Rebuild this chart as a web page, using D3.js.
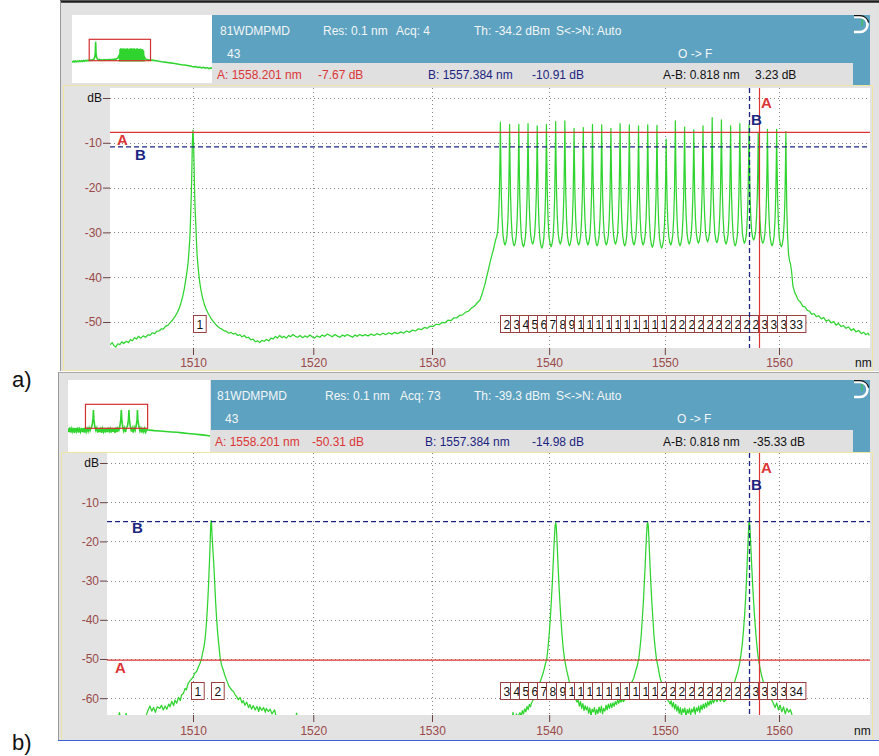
<!DOCTYPE html>
<html>
<head>
<meta charset="utf-8">
<script src="https://cdn.jsdelivr.net/npm/d3@7"></script>
<style>
  body { margin: 0; background: #fff; }
  svg { display: block; }
  text { font-family: Arial, "Liberation Sans", sans-serif; }
</style>
</head>
<body>
<svg id="chart" width="879" height="756"></svg>
<script>
const C = 299792.458; // speed of light, nm·THz

// ---- axes ----
const nmTicks = [1510, 1520, 1530, 1540, 1550, 1560];
const dbTicksA = [0, -10, -20, -30, -40, -50];
const dbTicksB = [0, -10, -20, -30, -40, -50, -60];
const viewNm = [1503.2, 1568.0];
const viewDbA = [2.23, -55.8];
const viewDbB = [2.55, -64.29];

// ---- 100 GHz DWDM grid (THz) ----
const combTHz = [195.2, 195.1, 195.0, 194.9, 194.8, 194.7, 194.6, 194.5, 194.4, 194.3, 194.2,
  194.1, 194.0, 193.9, 193.8, 193.7, 193.6, 193.5, 193.4, 193.3, 193.2, 193.1, 193.0,
  192.9, 192.8, 192.7, 192.6, 192.5, 192.4, 192.3, 192.2, 192.1];

// ---- trace a) : all channels lit ----
const combPeakA = [-5.4, -5.9, -5.9, -5.7, -6.2, -5.9, -5.3, -5.1, -6.8, -6.6, -5.9, -6.0, -6.8,
  -5.7, -6.0, -6.2, -6.0, -6.1, -9.2, -5.1, -6.5, -7.1, -6.2, -4.4, -4.9, -6.2, -5.7, -6.0,
  -7.67, -7.0, -7.0, -7.5];
const combValleyA = [-31.5, -32.8, -33.0, -33.2, -32.6, -33.5, -33.2, -32.6, -33.0, -32.8, -32.8,
  -33.0, -32.8, -32.6, -33.0, -32.8, -32.8, -33.3, -33.5, -32.8, -33.0, -32.6, -32.4, -32.1,
  -32.3, -32.6, -33.0, -32.4, -31.7, -32.4, -33.0, -33.2, -37.0];
// line profile: offset from channel centre (GHz) and fraction of the valley-to-peak rise
const lineGHz = [50, 40, 28, 18, 10, 4, 0];
const lineFrac = [0, 0.02, 0.08, 0.22, 0.42, 0.72, 1];

const traceLeftA = [
  [1503.18,-55.1],[1503.35,-54.6],[1503.5,-55.3],[1503.65,-55.6],[1503.8,-54.9],[1504.0,-55.0],
  [1504.15,-54.4],[1504.3,-54.8],[1504.52,-54.3],[1504.7,-54.6],[1504.85,-53.9],[1505.0,-54.2],
  [1505.2,-53.5],[1505.35,-53.8],[1505.5,-53.2],[1505.7,-53.6],[1505.9,-53.1],[1506.1,-53.4],
  [1506.3,-52.8],[1506.46,-53.0],[1506.65,-52.4],[1506.85,-52.6],[1507.0,-52.1],[1507.2,-52.0],
  [1507.4,-51.5],[1507.55,-51.6],[1507.75,-50.9],[1507.95,-50.7],[1508.1,-50.2],[1508.3,-49.6],
  [1508.51,-48.8],[1508.7,-47.9],[1508.87,-46.9],[1509.0,-45.8],[1509.15,-44.3],[1509.28,-42.6],
  [1509.4,-40.6],[1509.5,-38.8],[1509.59,-36.9],[1509.66,-34.5],[1509.73,-31.7],[1509.78,-28.5],
  [1509.81,-25.7],[1509.86,-21.5],[1509.89,-18.3],[1509.92,-14.0],[1509.94,-10.9],[1509.97,-8.2],
  [1510.0,-7.2],[1510.03,-8.5],[1510.06,-11.5],[1510.09,-15.2],[1510.11,-18.3],[1510.14,-21.6],
  [1510.17,-24.3],[1510.21,-27.0],[1510.25,-29.5],[1510.29,-32.2],[1510.33,-34.7],[1510.4,-37.1],
  [1510.47,-39.1],[1510.56,-41.2],[1510.66,-42.9],[1510.78,-44.5],[1510.91,-45.8],[1511.08,-47.1],
  [1511.26,-48.1],[1511.45,-49.0],[1511.68,-49.9],[1511.9,-50.6],[1512.05,-51.0],[1512.23,-51.4],
  [1512.4,-51.6],[1512.6,-52.0],[1512.78,-52.1],[1512.95,-52.5],[1513.15,-52.3],[1513.33,-52.7],
  [1513.5,-52.5],[1513.7,-53.0],[1513.88,-52.8],[1514.05,-53.3],[1514.25,-53.0],[1514.43,-53.5],
  [1514.6,-53.4],[1514.8,-54.0],[1514.98,-53.8],[1515.15,-54.4],[1515.35,-54.2],[1515.53,-54.6],
  [1515.7,-54.1],[1515.9,-54.3],[1516.09,-53.9],[1516.3,-54.2],[1516.45,-53.6],[1516.64,-53.8],
  [1516.85,-53.2],[1517.0,-53.6],[1517.2,-53.0],[1517.4,-53.5],[1517.55,-53.2],[1517.75,-53.6],
  [1517.95,-53.0],[1518.1,-53.3],[1518.3,-52.8],[1518.5,-53.2],[1518.7,-53.4],[1518.89,-53.0],
  [1519.1,-53.5],[1519.3,-53.1],[1519.5,-53.4],[1519.72,-52.9],[1519.9,-53.3],[1520.1,-53.6],
  [1520.3,-53.1],[1520.55,-53.4],[1520.75,-52.9],[1520.95,-53.2],[1521.2,-52.7],[1521.4,-53.0],
  [1521.6,-53.3],[1521.8,-52.8],[1522.0,-53.1],[1522.23,-53.4],[1522.45,-52.9],[1522.65,-53.2],
  [1522.85,-52.8],[1523.07,-53.1],[1523.3,-53.4],[1523.5,-52.9],[1523.7,-53.2],[1523.9,-52.8],
  [1524.1,-53.1],[1524.35,-52.8],[1524.6,-53.1],[1524.85,-52.7],[1525.1,-53.0],[1525.35,-52.6],
  [1525.6,-52.9],[1525.85,-52.5],[1526.1,-52.8],[1526.35,-52.4],[1526.6,-52.7],[1526.85,-52.3],
  [1527.1,-52.6],[1527.35,-52.2],[1527.6,-52.5],[1527.85,-52.0],[1528.1,-52.3],[1528.35,-51.8],
  [1528.6,-52.0],[1528.85,-51.5],[1529.1,-51.7],[1529.35,-51.2],[1529.6,-51.4],[1529.85,-50.9],
  [1530.1,-51.0],[1530.35,-50.5],[1530.6,-50.6],[1530.85,-50.1],[1531.1,-50.2],[1531.35,-49.6],
  [1531.6,-49.7],[1531.85,-49.1],[1532.1,-49.1],[1532.35,-48.5],[1532.6,-48.4],[1532.85,-47.8],
  [1533.1,-47.6],[1533.35,-46.9],[1533.6,-46.5],[1533.85,-45.7],[1534.08,-45.1],[1534.3,-43.4],
  [1534.5,-41.6],[1534.65,-39.9],[1534.8,-38.3],[1534.95,-36.6],[1535.1,-35.0],[1535.22,-33.9],
  [1535.33,-32.6]
];
const traceTailA = [
  [1561.1,-38.5],[1561.23,-42.0],[1561.4,-43.5],[1561.55,-44.2],[1561.67,-45.0],[1561.9,-45.6],
  [1562.11,-46.5],[1562.3,-46.6],[1562.5,-47.4],[1562.7,-47.6],[1562.9,-48.3],[1563.1,-48.1],
  [1563.29,-48.8],[1563.5,-48.6],[1563.75,-49.3],[1563.95,-49.0],[1564.17,-49.8],[1564.4,-49.5],
  [1564.6,-50.2],[1564.85,-49.9],[1565.05,-50.7],[1565.25,-50.3],[1565.5,-51.0],[1565.7,-50.8],
  [1565.93,-51.4],[1566.15,-51.1],[1566.4,-51.9],[1566.6,-51.5],[1566.81,-52.2],[1567.05,-51.9],
  [1567.3,-52.6],[1567.5,-52.3],[1567.7,-52.8],[1567.9,-52.5],[1568.0,-53.0]
];

// ---- trace b) : four channels lit ----
const traceB = [
  [1503.0,-66],[1503.8,-65.5],[1503.95,-63.7],[1504.05,-65.8],[1504.4,-65.0],[1504.5,-63.9],
  [1504.6,-65.6],[1505.5,-66],[1506.1,-64.8],
  [1506.3,-63.0],[1506.45,-62.0],[1506.6,-63.3],[1506.75,-62.4],[1506.9,-63.6],[1507.05,-62.2],
  [1507.27,-62.6],[1507.4,-61.8],[1507.55,-63.0],[1507.7,-62.0],[1507.85,-62.8],[1508.0,-61.5],
  [1508.1,-62.2],[1508.25,-60.8],[1508.4,-61.9],[1508.5,-60.5],[1508.65,-61.3],[1508.8,-59.8],
  [1508.95,-60.6],[1509.05,-59.2],[1509.2,-58.8],[1509.35,-57.5],[1509.45,-57.9],[1509.6,-56.2],
  [1509.75,-55.6],[1509.9,-55.0],[1510.03,-54.5],[1510.15,-53.6],[1510.3,-53.2],[1510.45,-52.0],
  [1510.58,-51.1],[1510.71,-49.8],[1510.8,-48.4],[1510.91,-46.9],[1511.0,-44.8],[1511.07,-42.6],
  [1511.13,-40.0],[1511.18,-37.5],[1511.24,-34.0],[1511.29,-30.7],[1511.33,-27.5],[1511.37,-24.7],
  [1511.41,-21.0],[1511.44,-18.0],[1511.47,-15.6],[1511.5,-14.7],[1511.53,-15.4],[1511.56,-17.5],
  [1511.6,-19.8],[1511.65,-22.4],[1511.71,-25.3],[1511.76,-28.4],[1511.8,-30.9],[1511.87,-35.4],
  [1511.95,-39.6],[1512.04,-43.4],[1512.13,-46.2],[1512.24,-49.6],[1512.36,-51.5],[1512.5,-52.8],
  [1512.64,-54.2],[1512.78,-55.4],[1512.95,-56.8],[1513.19,-57.9],[1513.35,-58.3],[1513.5,-59.2],
  [1513.61,-59.6],[1513.75,-60.4],[1513.9,-59.8],[1514.05,-61.2],[1514.16,-60.6],[1514.3,-61.8],
  [1514.45,-61.0],[1514.6,-62.4],[1514.71,-61.6],[1514.85,-62.8],[1515.0,-61.9],[1515.15,-63.0],
  [1515.3,-62.1],[1515.45,-63.4],[1515.53,-62.2],[1515.7,-63.1],[1515.85,-62.4],[1516.0,-63.6],
  [1516.08,-62.6],[1516.25,-63.4],[1516.4,-62.8],[1516.55,-64.0],[1516.77,-63.0],[1516.9,-64.8],
  [1517.2,-66],[1518.5,-66],[1518.6,-63.8],[1518.7,-66],[1536.7,-66],
  [1536.85,-64.9],[1536.9,-63.6],[1536.95,-65.0],[1537.1,-65.2],[1537.2,-64.0],[1537.3,-65.1],
  [1537.4,-64.2],[1537.5,-63.7],[1537.6,-64.6],[1537.7,-63.2],[1537.8,-64.0],[1537.9,-62.7],
  [1538.0,-63.5],[1538.1,-62.1],[1538.2,-62.9],[1538.3,-61.6],[1538.4,-62.2],[1538.47,-61.3],
  [1538.6,-60.6],[1538.76,-59.4],[1538.9,-58.6],[1539.04,-57.3],[1539.2,-56.0],[1539.35,-54.8],
  [1539.5,-53.4],[1539.65,-51.6],[1539.8,-49.8],[1539.9,-47.2],[1540.0,-43.8],[1540.1,-39.6],
  [1540.19,-35.0],[1540.27,-30.7],[1540.34,-26.0],[1540.4,-22.0],[1540.46,-18.6],[1540.51,-16.0],
  [1540.56,-15.2],[1540.61,-16.2],[1540.66,-19.0],[1540.71,-22.4],[1540.77,-26.5],[1540.84,-31.0],
  [1540.92,-35.4],[1541.01,-39.8],[1541.11,-44.0],[1541.21,-47.4],[1541.32,-49.9],[1541.47,-52.4],
  [1541.62,-54.4],[1541.78,-56.4],[1541.95,-58.0],[1542.1,-59.2],[1542.25,-60.0],[1542.39,-61.0],
  [1542.5,-60.5],[1542.6,-62.0],[1542.7,-60.9],[1542.8,-62.6],[1542.9,-61.4],[1543.0,-63.2],
  [1543.1,-61.9],[1543.2,-63.0],[1543.3,-62.2],[1543.4,-63.8],[1543.5,-62.5],[1543.6,-64.6],
  [1543.7,-62.8],[1543.8,-63.5],[1543.9,-62.4],[1544.0,-64.2],[1544.1,-62.9],[1544.2,-63.9],
  [1544.3,-62.3],[1544.4,-63.6],[1544.5,-62.0],[1544.6,-64.0],[1544.7,-62.6],[1544.8,-63.3],
  [1544.9,-61.8],[1545.0,-63.0],[1545.1,-61.5],[1545.2,-62.6],[1545.3,-61.3],[1545.4,-62.4],
  [1545.5,-61.2],[1545.6,-62.1],[1545.7,-60.9],[1545.8,-61.6],[1545.9,-60.5],[1546.0,-61.3],
  [1546.1,-60.2],[1546.2,-61.0],[1546.3,-60.0],[1546.4,-60.9],
  [1546.55,-60.3],[1546.71,-59.6],[1546.85,-58.4],[1546.99,-57.5],[1547.15,-55.8],[1547.3,-54.9],
  [1547.45,-53.2],[1547.6,-51.8],[1547.75,-49.6],[1547.85,-47.0],[1547.95,-43.9],[1548.05,-39.4],
  [1548.14,-35.2],[1548.22,-30.5],[1548.29,-26.2],[1548.35,-22.1],[1548.41,-18.4],[1548.46,-15.9],
  [1548.51,-15.1],[1548.56,-16.0],[1548.61,-18.8],[1548.66,-22.3],[1548.72,-26.6],[1548.79,-30.8],
  [1548.87,-35.6],[1548.96,-39.6],[1549.06,-44.2],[1549.16,-47.2],[1549.27,-50.0],[1549.42,-52.2],
  [1549.57,-54.6],[1549.73,-56.2],[1549.9,-58.2],[1550.05,-59.0],[1550.2,-60.2],[1550.34,-60.8],
  [1550.45,-61.5],[1550.55,-60.7],[1550.65,-62.2],[1550.75,-61.1],[1550.85,-62.8],[1550.95,-61.6],
  [1551.05,-63.3],[1551.15,-62.0],[1551.25,-63.9],[1551.35,-62.4],[1551.45,-64.5],[1551.55,-62.7],
  [1551.65,-63.6],[1551.75,-62.5],[1551.85,-64.8],[1551.95,-62.9],[1552.05,-63.8],[1552.15,-62.6],
  [1552.25,-64.3],[1552.35,-62.8],[1552.45,-63.5],[1552.55,-62.2],[1552.65,-64.1],[1552.75,-62.5],
  [1552.85,-63.3],[1552.95,-62.0],[1553.05,-63.6],[1553.15,-61.8],[1553.25,-62.9],[1553.35,-61.5],
  [1553.45,-62.6],[1553.55,-61.2],[1553.65,-62.3],[1553.75,-60.9],[1553.85,-61.8],[1553.95,-60.6],
  [1554.05,-61.5],[1554.15,-60.3],[1554.25,-61.2],[1554.4,-60.1],[1554.55,-60.9],[1554.7,-59.9],
  [1554.85,-60.8],[1555.0,-60.0],[1555.15,-60.9],
  [1555.35,-60.4],[1555.5,-59.5],[1555.65,-59.0],[1555.8,-58.0],[1555.95,-56.9],[1556.1,-55.8],
  [1556.25,-54.4],[1556.4,-52.9],[1556.55,-50.9],[1556.65,-49.0],[1556.77,-46.2],[1556.88,-42.6],
  [1556.98,-38.6],[1557.07,-34.2],[1557.14,-29.8],[1557.2,-25.6],[1557.26,-21.4],[1557.31,-17.8],
  [1557.35,-15.4],[1557.384,-14.98],[1557.42,-15.6],[1557.47,-18.2],[1557.53,-21.9],[1557.6,-26.4],
  [1557.68,-31.0],[1557.77,-35.6],[1557.87,-40.0],[1557.98,-44.2],[1558.09,-47.6],[1558.201,-50.31],
  [1558.35,-52.6],[1558.5,-54.6],[1558.66,-56.3],[1558.83,-57.8],[1559.0,-58.8],[1559.17,-59.8],
  [1559.35,-60.4],[1559.5,-61.3],
  [1559.65,-62.4],[1559.8,-61.2],[1559.95,-63.0],[1560.1,-61.8],[1560.25,-63.5],[1560.4,-62.2],
  [1560.55,-64.0],[1560.7,-62.6],[1560.85,-63.6],[1561.0,-62.9],[1561.15,-64.3],[1561.3,-65.2],
  [1561.6,-66],[1568.1,-66]
];

// ---- overview strips (full span) ----
const thumbNm = [1485, 1633];
const thumbLeftA = [
  [1485,-57.5],[1486,-59.5],[1487,-57.0],[1488,-59.2],[1489,-56.8],[1490,-58.8],[1491,-56.5],
  [1492,-58.6],[1493,-56.2],[1494,-58.0],[1495,-55.8],[1496,-57.6],[1497,-55.4],[1498,-57.2],
  [1499,-55.0],[1500,-56.8],[1501,-54.6],[1502,-56.2],[1503,-54.2],[1504,-55.6],[1505,-53.8],
  [1506,-54.8],[1507,-53.0],[1508,-52.0],[1509,-47.0],[1509.6,-35],[1510,-4.3],[1510.4,-35],
  [1511,-47],[1512,-51.5],[1513,-53.8],[1514,-52.6],[1515,-54.5],[1516,-53.0],[1517,-54.8],
  [1518,-53.2],[1519,-54.6],[1520,-53.0],[1521,-54.4],[1522,-52.8],[1523,-54.2],[1524,-52.6],
  [1525,-54.0],[1526,-52.4],[1527,-53.6],[1528,-52.0],[1529,-53.2],[1530,-51.6],[1531,-52.4],
  [1532,-50.5],[1533,-49.5],[1534,-46.0],[1535,-40.0]
];
const thumbCombTopA = [-24, -22, -27, -23, -25, -22, -28, -24, -23, -26, -22, -25, -27, -23, -24,
  -22, -26, -23, -28, -22, -25, -24, -23, -22, -26, -24, -25, -23, -27, -24, -26, -28];
const thumbCombFloorA = -58;
const thumbRightA = [
  [1561.5,-45],[1562.5,-50.5],[1564,-52.8],[1566,-53.6],[1568,-54.2],[1571,-55.0],[1574,-56.0],
  [1577,-57.4],[1580,-58.6],[1583,-59.6],[1586,-60.6],[1589,-61.8],[1592,-62.8],[1595,-64.0],
  [1598,-65.4],[1601,-66.6],[1604,-67.6],[1607,-68.8],[1610,-70.2],[1612,-71.5],[1614,-72.5],
  [1616,-71.6],[1618,-74.0],[1620,-72.8],[1622,-75.2],[1624,-73.6],[1626,-76.2],[1628,-74.4],
  [1630,-77.2],[1632,-75.4],[1633,-77.0]
];
const thumbB = [
  [1485,-64],[1486,-75],[1487,-62],[1488,-76],[1489,-65],[1490,-74],[1491,-63],[1492,-77],
  [1493,-64],[1494,-73],[1495,-62],[1496,-76],[1497,-66],[1498,-74],[1499,-63],[1500,-75],
  [1501,-64],[1502,-76],[1503,-62],[1504,-74],[1505,-65],[1506,-73],[1507,-63],[1508,-71],
  [1509,-62],[1510,-58],[1511,-40],[1511.5,-13.4],[1512,-40],[1513,-60],[1514,-70],[1515,-63],
  [1516,-76],[1517,-64],[1518,-75],[1519,-62],[1520,-77],[1521,-65],[1522,-74],[1523,-63],
  [1524,-76],[1525,-64],[1526,-75],[1527,-62],[1528,-73],[1529,-65],[1530,-76],[1531,-63],
  [1532,-74],[1533,-64],[1534,-77],[1535,-62],[1536,-75],[1537,-64],[1538,-70],[1539,-60],
  [1540,-40],[1540.56,-13.4],[1541.1,-40],[1542,-60],[1543,-72],[1544,-63],[1545,-75],[1546,-62],
  [1547,-58],[1548,-40],[1548.51,-13.4],[1549,-40],[1550,-60],[1551,-73],[1552,-64],[1553,-76],
  [1554,-62],[1555,-70],[1556,-58],[1557,-40],[1557.37,-13.4],[1557.8,-40],[1559,-60],[1560,-72],
  [1561,-64],[1562,-76],[1563,-63],[1564,-74],[1565,-65],[1566,-75],[1567,-68],[1570,-69.5],
  [1575,-70.8],[1581,-71.9],[1587,-73.2],[1593,-74.4],[1598.5,-75.5],[1604,-77.0],[1610,-78.6],
  [1616,-80.2],[1622,-82.0],[1627,-83.4],[1631.6,-85.0],[1633,-85.3]
];

// ---- markers and header readouts ----
const markersA = { A: [1558.201, -7.67], B: [1557.384, -10.91], dNm: "0.818", dDb: "3.23" };
const markersB = { A: [1558.201, -50.31], B: [1557.384, -14.98], dNm: "0.818", dDb: "-35.33" };
const headerA = ["81WDMPMD", "Res: 0.1 nm", "Acq: 4", "Th: -34.2 dBm", "S<->N: Auto", "43", "O -> F"];
const headerB = ["81WDMPMD", "Res: 0.1 nm", "Acq: 73", "Th: -39.3 dBm", "S<->N: Auto", "43", "O -> F"];

// ---- channel numbering ----
const chanNmA = [1510.0].concat(combTHz.map(f => C / f));
const chanNmB = [1509.8, 1511.5].concat(combTHz.map(f => C / f));

// Build the comb portion of a trace from channel peaks, valleys and the line profile.
function combTrace(peaks, valleys) {
  const pts = [];
  combTHz.forEach((f, k) => {
    const vL = valleys[k], vR = valleys[k + 1], p = peaks[k];
    for (let i = 0; i < lineGHz.length; i++) {
      if (i === 0 && k > 0) continue;
      pts.push([C / (f + lineGHz[i] / 1000), vL + (p - vL) * lineFrac[i]]);
    }
    for (let i = lineGHz.length - 2; i >= 0; i--) {
      pts.push([C / (f - lineGHz[i] / 1000), vR + (p - vR) * lineFrac[i]]);
    }
  });
  return pts;
}
function thumbComb(tops, floor) {
  const pts = [];
  combTHz.forEach((f, k) => { pts.push([C / (f + 0.05), floor], [C / f, tops[k]]); });
  pts.push([C / (combTHz[combTHz.length - 1] - 0.05), floor]);
  return pts;
}

const traceA = traceLeftA.concat(combTrace(combPeakA, combValleyA), traceTailA);
const thumbA = thumbLeftA.concat(thumbComb(thumbCombTopA, thumbCombFloorA), thumbRightA);

// Horizontal axis is linear in optical frequency, labelled in wavelength.
const xF = d3.scaleLinear().domain([C / 1510, C / 1560]).range([193, 779]);
const xNm = nm => xF(C / nm);

const svg = d3.select("#chart");
const BLUE = "#5da2c0", RED = "#dc3535", NAVY = "#1c2580", GREEN = "#2fd42f", BOX = "#9a4040";
const TICK = "#9a4a48";

function drawPanel(p) {
  const g = svg.append("g");
  const f = p.frame;
  g.append("rect").attr("x", f.x).attr("y", f.y).attr("width", f.w).attr("height", f.h).attr("fill", "#e2e2e2");
  g.append("line").attr("x1", f.x).attr("x2", f.x + f.w).attr("y1", f.y + 0.5).attr("y2", f.y + 0.5)
    .attr("stroke", p.topStroke).attr("stroke-width", p.topWidth);
  g.append("line").attr("x1", f.x + 0.5).attr("x2", f.x + 0.5).attr("y1", f.y).attr("y2", f.y + f.h)
    .attr("stroke", "#9a9a9a");

  // overview strip
  const t = p.thumb;
  g.append("rect").attr("x", t.x).attr("y", t.y).attr("width", t.w).attr("height", t.h).attr("fill", "#fff");
  const tx = d3.scaleLinear().domain(thumbNm).range([t.x, t.x + t.w]);
  const ty = d3.scaleLinear().domain(p.viewDb).range(p.thumbRectY);
  g.append("clipPath").attr("id", "tc" + p.id).append("rect")
    .attr("x", t.x).attr("y", t.y).attr("width", t.w).attr("height", t.h);
  g.append("path").datum(p.thumbData)
    .attr("clip-path", `url(#tc${p.id})`)
    .attr("d", d3.line().x(d => tx(d[0])).y(d => ty(d[1])))
    .attr("fill", "none").attr("stroke", GREEN).attr("stroke-width", 1.6);
  g.append("rect").attr("x", tx(viewNm[0])).attr("y", ty(p.viewDb[0]))
    .attr("width", tx(viewNm[1]) - tx(viewNm[0])).attr("height", ty(p.viewDb[1]) - ty(p.viewDb[0]))
    .attr("fill", "none").attr("stroke", "#d23030").attr("stroke-width", 1.2);

  // header band
  const h = p.header;
  g.append("rect").attr("x", h.x).attr("y", h.y).attr("width", h.w).attr("height", h.h).attr("fill", BLUE);
  g.append("rect").attr("x", h.x).attr("y", h.y + h.h).attr("width", h.w).attr("height", p.infoH).attr("fill", "#e0e0e0");
  g.append("rect").attr("x", h.x + h.w).attr("y", h.y).attr("width", 17).attr("height", h.h + p.infoH).attr("fill", BLUE);
  const bx = h.x + h.w + 1, by = h.y;
  g.append("path").attr("d", `M${bx},${by + 2} h6 a7.5,7.5 0 0 1 0,15 h-6`)
    .attr("fill", "none").attr("stroke", "#fff").attr("stroke-width", 2.6);
  g.append("path").attr("d", `M${bx},${by + 0.6} h6 a9,9 0 0 1 8.6,7`)
    .attr("fill", "none").attr("stroke", "#111").attr("stroke-width", 1.2);
  g.append("line").attr("x1", bx + 8).attr("x2", bx + 8).attr("y1", by + 4).attr("y2", by + 11)
    .attr("stroke", "#30d030").attr("stroke-width", 1);

  const hdr = p.hdrText;
  const hx = p.hdrX;
  const row1 = h.y + 19.5, row2 = h.y + 42.5, row3 = h.y + h.h + 15.5;
  const ht = [
    [hdr[0], hx[0], row1], [hdr[1], hx[1], row1], [hdr[2], hx[2], row1], [hdr[3], hx[3], row1],
    [hdr[4], hx[4], row1], [hdr[5], hx[5], row2], [hdr[6], hx[6], row2]
  ];
  g.selectAll(null).data(ht).join("text")
    .attr("x", d => d[1]).attr("y", d => d[2]).text(d => d[0])
    .attr("font-size", 12).attr("fill", "#f2f6f8");
  const m = p.markers;
  const info = [
    [`A: ${m.A[0].toFixed(3)} nm`, p.infoX[0], RED],
    [`${m.A[1].toFixed(2)} dB`, p.infoX[1], RED],
    [`B: ${m.B[0].toFixed(3)} nm`, p.infoX[2], NAVY],
    [`${m.B[1].toFixed(2)} dB`, p.infoX[3], NAVY],
    [`A-B: ${m.dNm} nm`, p.infoX[4], "#111"],
    [`${m.dDb} dB`, p.infoX[5], "#111"]
  ];
  g.selectAll(null).data(info).join("text")
    .attr("x", d => d[1]).attr("y", row3).text(d => d[0])
    .attr("font-size", 12).attr("fill", d => d[2]);

  // plot frame
  const pl = p.plot;
  g.append("rect").attr("x", p.pf.x + 0.5).attr("y", p.pf.y + 0.5).attr("width", p.pf.w).attr("height", p.pf.h)
    .attr("fill", "#e3e3e3").attr("stroke", "#eee4a4");
  g.append("rect").attr("x", pl.x).attr("y", pl.y).attr("width", pl.w).attr("height", pl.h).attr("fill", "#fff");

  const y = d3.scaleLinear().domain(p.viewDb).range([pl.y, pl.y + pl.h]);
  const grid = g.append("g").attr("stroke", "#858585").attr("stroke-dasharray", "1,3");
  grid.selectAll(null).data(nmTicks).join("line")
    .attr("x1", d => Math.round(xNm(d)) + 0.5).attr("x2", d => Math.round(xNm(d)) + 0.5)
    .attr("y1", pl.y).attr("y2", pl.y + pl.h);
  grid.selectAll(null).data(p.dbTicks).join("line")
    .attr("x1", pl.x).attr("x2", pl.x + pl.w)
    .attr("y1", d => Math.round(y(d)) + 0.5).attr("y2", d => Math.round(y(d)) + 0.5);

  // axes
  const ya = g.append("g").attr("transform", `translate(${pl.x},0)`)
    .call(d3.axisLeft(y).tickValues(p.dbTicks).tickSize(7).tickPadding(1)
      .tickFormat(d => d === 0 ? "dB" : String(d)));
  ya.select(".domain").remove();
  ya.selectAll("line").attr("stroke", "#6b4040");
  ya.selectAll("text").attr("font-size", 12).attr("font-family", "Arial, 'Liberation Sans', sans-serif")
    .attr("fill", d => d === 0 ? "#111" : TICK);

  const xa = g.append("g").attr("transform", `translate(0,${pl.y + pl.h})`)
    .call(d3.axisBottom(xF).tickValues(nmTicks.map(l => C / l)).tickSize(7).tickPadding(p.xPad)
      .tickFormat(fq => String(Math.round(C / fq))));
  xa.select(".domain").remove();
  xa.selectAll("line").attr("stroke", "#6b4040");
  xa.selectAll("text").attr("font-size", 12).attr("font-family", "Arial, 'Liberation Sans', sans-serif")
    .attr("fill", TICK);
  g.append("text").attr("x", p.nmX).attr("y", p.nmY).text("nm").attr("font-size", 12).attr("fill", "#111");

  // spectrum trace
  g.append("clipPath").attr("id", "pc" + p.id).append("rect")
    .attr("x", pl.x).attr("y", pl.y).attr("width", pl.w).attr("height", pl.h);
  g.append("path").datum(p.trace)
    .attr("clip-path", `url(#pc${p.id})`)
    .attr("d", d3.line().x(d => xNm(d[0])).y(d => y(d[1])))
    .attr("fill", "none").attr("stroke", GREEN).attr("stroke-width", 1.25).attr("stroke-linejoin", "round");

  // channel number boxes (each later box sits on top of the previous one)
  const boxTop = pl.y + pl.h - 33;
  const lab = g.append("g");
  p.chanNm.forEach((nm, i) => {
    const s = String(i + 1);
    const w = s.length * 6.7 + 6;
    const x0 = Math.round(xNm(nm)) + 0.5;
    lab.append("rect").attr("x", x0).attr("y", boxTop + 0.5).attr("width", w).attr("height", 17)
      .attr("fill", "#fff").attr("stroke", BOX).attr("stroke-width", 1);
    lab.append("text").attr("x", x0 + 3).attr("y", boxTop + 13.5).text(s)
      .attr("font-size", 12).attr("fill", "#111");
  });

  // cursors
  const xA = Math.round(xNm(m.A[0])) + 0.5, xB = Math.round(xNm(m.B[0])) + 0.5;
  const yA = y(m.A[1]), yB = y(m.B[1]);
  g.append("line").attr("x1", pl.x).attr("x2", pl.x + pl.w).attr("y1", yA).attr("y2", yA)
    .attr("stroke", RED).attr("stroke-width", 1.2);
  g.append("line").attr("x1", pl.x).attr("x2", pl.x + pl.w).attr("y1", yB).attr("y2", yB)
    .attr("stroke", NAVY).attr("stroke-width", 1.3).attr("stroke-dasharray", "5,3");
  g.append("line").attr("x1", xB).attr("x2", xB).attr("y1", pl.y).attr("y2", pl.y + pl.h)
    .attr("stroke", NAVY).attr("stroke-width", 1.3).attr("stroke-dasharray", "5,3");
  g.append("line").attr("x1", xA).attr("x2", xA).attr("y1", pl.y).attr("y2", pl.y + pl.h)
    .attr("stroke", RED).attr("stroke-width", 1.2);
  const letters = [
    ["A", pl.x + p.aLeft, yA + p.aDy, RED],
    ["B", pl.x + p.bLeft, yB + p.bDy, NAVY],
    ["A", xA + 1.5, pl.y + 20, RED],
    ["B", xB + 1.5, pl.y + 37, NAVY]
  ];
  g.selectAll(null).data(letters).join("text")
    .attr("x", d => d[1]).attr("y", d => d[2]).text(d => d[0])
    .attr("font-size", 15).attr("font-weight", "bold").attr("fill", d => d[3]);
}

drawPanel({
  id: "a",
  frame: { x: 60, y: 1, w: 819, h: 370 }, topStroke: "#1e1e1e", topWidth: 2.5,
  thumb: { x: 72, y: 15, w: 140, h: 68 }, thumbRectY: [39.3, 60.7], thumbData: thumbA,
  header: { x: 212, y: 15, w: 641, h: 48 }, infoH: 22,
  hdrText: headerA, hdrX: [220, 323, 396, 474, 556, 227, 678],
  infoX: [217, 318, 428, 532, 663, 755],
  markers: markersA,
  pf: { x: 63, y: 85, w: 809, h: 285 },
  plot: { x: 110, y: 88, w: 760, h: 260 },
  viewDb: viewDbA, dbTicks: dbTicksA, xPad: 3, nmX: 855, nmY: 367,
  trace: traceA, chanNm: chanNmA,
  aLeft: 7, aDy: 13, bLeft: 25, bDy: 13
});

drawPanel({
  id: "b",
  frame: { x: 58, y: 372, w: 821, h: 369 }, topStroke: "#a8a8a8", topWidth: 1,
  thumb: { x: 68, y: 380, w: 142, h: 72 }, thumbRectY: [404.3, 428.3], thumbData: thumbB,
  header: { x: 211, y: 380, w: 642, h: 50 }, infoH: 22,
  hdrText: headerB, hdrX: [217, 325, 400, 474, 556, 225, 677],
  infoX: [215, 312, 425, 532, 663, 753],
  markers: markersB,
  pf: { x: 61, y: 452, w: 811, h: 288 },
  plot: { x: 107, y: 453, w: 763, h: 262 },
  viewDb: viewDbB, dbTicks: dbTicksB, xPad: 4, nmX: 854, nmY: 735,
  trace: traceB, chanNm: chanNmB,
  aLeft: 8, aDy: 13, bLeft: 25, bDy: 11
});

// bottom edge of the lower window
svg.append("line").attr("x1", 58).attr("x2", 879).attr("y1", 740.5).attr("y2", 740.5)
  .attr("stroke", "#3c5fd6").attr("stroke-width", 1.2);

// sub-figure labels
svg.append("text").attr("x", 12).attr("y", 387).text("a)")
  .attr("font-family", "'Open Sans', 'DejaVu Sans', sans-serif").attr("font-size", 22).attr("fill", "#111");
svg.append("text").attr("x", 12).attr("y", 750).text("b)")
  .attr("font-family", "'Open Sans', 'DejaVu Sans', sans-serif").attr("font-size", 22).attr("fill", "#111");
</script>
</body>
</html>
